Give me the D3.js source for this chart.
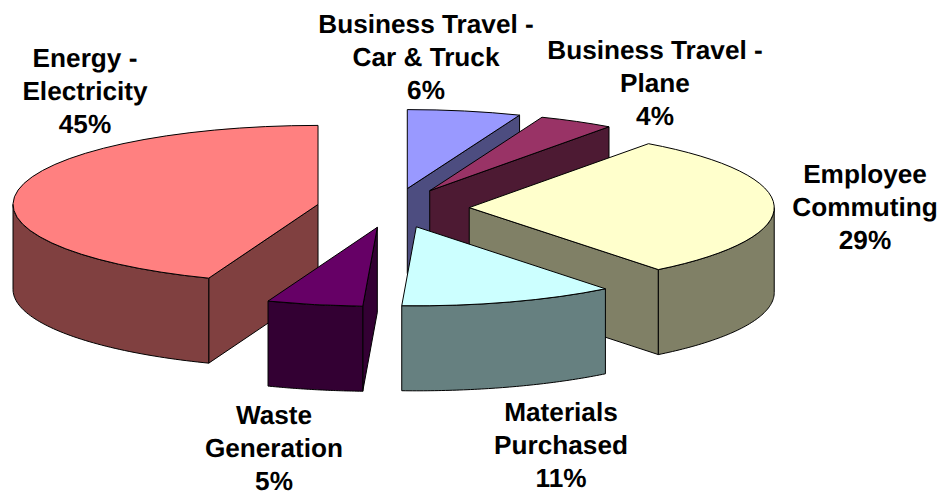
<!DOCTYPE html>
<html>
<head>
<meta charset="utf-8">
<script src="https://cdn.jsdelivr.net/npm/d3@7/dist/d3.min.js"></script>
<style>
  html, body { margin: 0; padding: 0; background: #fff; }
  svg { display: block; }
  text { font-family: "Liberation Sans", Arial, sans-serif; font-weight: bold; font-size: 26.2px; fill: #000; text-anchor: middle; text-rendering: geometricPrecision; }
</style>
</head>
<body>
<svg id="chart" width="939" height="496"></svg>
<script>
// Emissions by source, in percent, clockwise from twelve o'clock
const categories = [
  ["Business Travel -", "Car & Truck"],
  ["Business Travel -", "Plane"],
  ["Employee", "Commuting"],
  ["Materials", "Purchased"],
  ["Waste", "Generation"],
  ["Energy -", "Electricity"]
];
const shares = [6, 4, 29, 11, 5, 45];
const topColors = ["#9999ff", "#993366", "#ffffcc", "#ccffff", "#660066", "#ff8080"];
const wallColors = ["#4d4d80", "#4d1a33", "#808066", "#668080", "#330033", "#804040"];

// Centre of the first line of each label
const labelAnchors = [[426, 33], [655, 59], [865, 183], [561, 421], [274, 424], [85, 67]];

// Tilted-disc geometry
const centerX = 393, centerY = 208;
const radiusX = 305, radiusY = 79;
const depth = 85;
const explode = 0.25;
const lineHeight = 33;
// Perspective drags the near side of the disc round slightly, most of all just
// past six o'clock; the far side stays put
const nearSideShift = 3 * Math.PI / 180;
const nearSidePeak = 200 * Math.PI / 180;
const viewAngle = t => t + nearSideShift * Math.pow((1 + Math.cos(t - nearSidePeak)) / 2, 3);

const svg = d3.select("#chart");

const pie = d3.pie().sort(null).value(d => d);
const topArc = d3.arc().innerRadius(0).outerRadius(radiusX);
const polygon = d3.line();

const slices = pie(shares).map((s, i) => {
  const startAngle = viewAngle(s.startAngle);
  const endAngle = viewAngle(s.endAngle);
  const mid = (startAngle + endAngle) / 2;
  return {
    startAngle, endAngle, i,
    ax: centerX + explode * radiusX * Math.sin(mid),
    ay: centerY - explode * radiusY * Math.cos(mid)
  };
});

const rim = (s, t) => [s.ax + radiusX * Math.sin(t), s.ay - radiusY * Math.cos(t)];

// Rear slices are painted first so nearer ones overlap them
const groups = svg.selectAll("g.slice")
  .data(slices.slice().sort((a, b) => a.ay - b.ay))
  .join("g").attr("class", "slice")
  .attr("stroke", "#000").attr("stroke-width", 1).attr("stroke-linejoin", "round");

groups.each(function (s) {
  const g = d3.select(this);
  const wall = wallColors[s.i];

  // A cut face shows only when it turns towards the viewer
  const eps = 1e-3;
  [[s.startAngle, Math.sin(s.startAngle) < -eps], [s.endAngle, Math.sin(s.endAngle) > eps]]
    .filter(d => d[1])
    .forEach(([t]) => {
      const [x, y] = rim(s, t);
      g.append("path").attr("fill", wall)
        .attr("d", polygon([[s.ax, s.ay], [x, y], [x, y + depth], [s.ax, s.ay + depth]]) + "Z");
    });

  // Curved outer wall: only the front half of the rim can be seen
  const from = Math.max(s.startAngle, Math.PI / 2);
  const to = Math.min(s.endAngle, 3 * Math.PI / 2);
  if (to > from) {
    const steps = d3.range(0, 61).map(k => from + (to - from) * k / 60);
    const band = d3.area()
      .x(t => rim(s, t)[0])
      .y0(t => rim(s, t)[1])
      .y1(t => rim(s, t)[1] + depth);
    g.append("path").attr("fill", wall).attr("d", band(steps) + "Z");
  }

  // Top face: a circular wedge flattened into the disc's ellipse
  g.append("path")
    .attr("fill", topColors[s.i])
    .attr("vector-effect", "non-scaling-stroke")
    .attr("transform", `translate(${s.ax},${s.ay}) scale(1,${radiusY / radiusX})`)
    .attr("d", topArc(s));
});

// Labels: category lines followed by the share
const labels = svg.selectAll("text")
  .data(categories.map((lines, i) => ({ lines: [...lines, shares[i] + "%"], at: labelAnchors[i] })))
  .join("text")
  .attr("transform", d => `translate(${d.at[0]},${d.at[1]})`);
labels.selectAll("tspan")
  .data(d => d.lines)
  .join("tspan")
  .attr("x", 0)
  .attr("y", (d, i) => i * lineHeight)
  .text(d => d);
</script>
</body>
</html>
